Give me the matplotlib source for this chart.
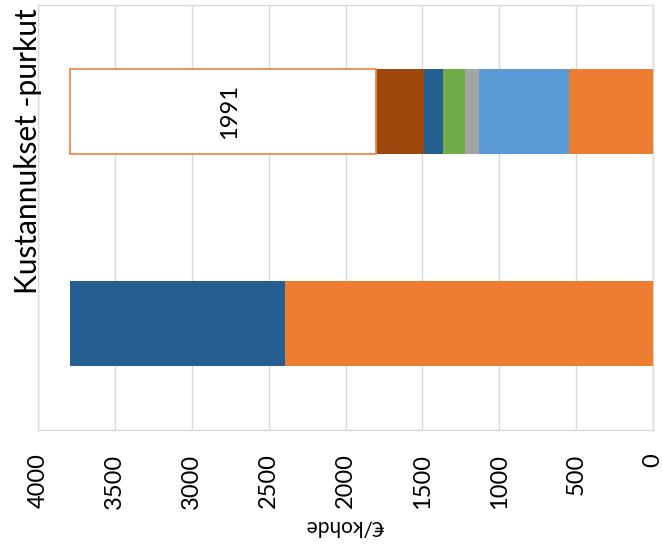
import matplotlib
matplotlib.use("Agg")
import matplotlib.pyplot as plt
import numpy as np

plt.rcParams['font.family'] = ['Lato', 'DejaVu Sans']

# Two cost bars, stacked segment by segment (€/kohde)
positions = [0, 1]
seg_orange = [2395, 545]
seg_light_blue = [0, 585]
seg_gray = [0, 95]
seg_green = [0, 140]
seg_dark_blue = [1396, 125]
seg_brown = [0, 310]
seg_white = [0, 1991]

series = [
    (seg_orange, '#ED7D31'),
    (seg_light_blue, '#5B9BD5'),
    (seg_gray, '#A5A5A5'),
    (seg_green, '#70AD47'),
    (seg_dark_blue, '#255E91'),
    (seg_brown, '#9E480E'),
]

tick_values = [0, 500, 1000, 1500, 2000, 2500, 3000, 3500, 4000]
title_text = 'Kustannukset -purkut'
axis_label = '€/kohde'

W, H = 662, 555
fig = plt.figure(figsize=(W / 100, H / 100), dpi=100)
ax = fig.add_axes([38 / W, 1 - 430 / H, (653 - 38) / W, (430 - 5) / H])

left = np.zeros(len(positions))
for vals, col in series:
    ax.barh(positions, vals, left=left, height=0.4, color=col, linewidth=0, zorder=3)
    left += np.array(vals)

# outlined remainder segment, only where it has a value
for p, v, l in zip(positions, seg_white, left):
    if v > 0:
        ax.barh([p], [v], left=[l], height=0.4, color='white',
                edgecolor='#EF8A4C', linewidth=1.3, zorder=3)
        ax.text(l + v / 2 - 40, p, str(v), rotation=90, ha='center', va='center',
                fontsize=17, color='black', zorder=4)

ax.set_xlim(4000, 0)
ax.set_ylim(-0.5, 1.5)
ax.set_yticks([])
ax.set_xticks(tick_values)
ax.set_xticklabels([str(t) for t in tick_values], rotation=90, fontsize=17)
ax.tick_params(axis='x', length=0, pad=17)
ax.grid(axis='x', color='#D9D9D9', linewidth=1, zorder=0)
for s in ax.spines.values():
    s.set_color('#D9D9D9')
    s.set_linewidth(1)

fig.text(345 / W, 1 - 526 / H, axis_label, rotation=180, ha='center', va='center',
         fontsize=15)
fig.text(42 / W, 1 - 294 / H, title_text, rotation=90, ha='right', va='bottom',
         fontsize=21.5)

fig.savefig('out.png', dpi=100)
